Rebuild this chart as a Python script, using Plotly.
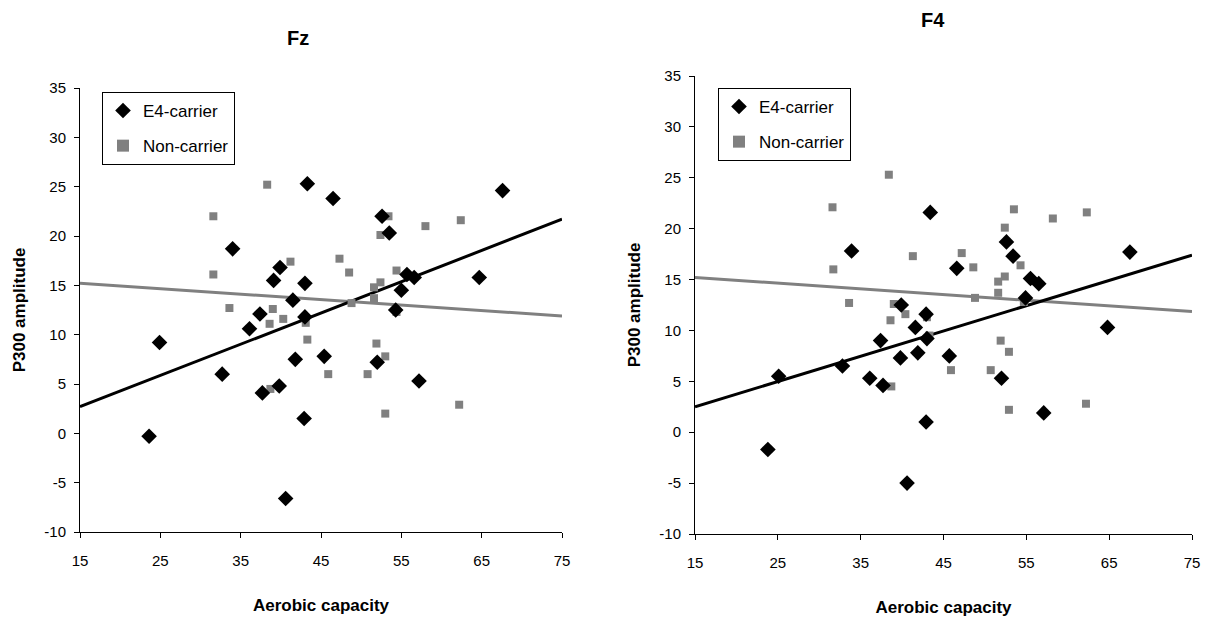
import plotly.graph_objects as go

# ---------------- data ----------------
# Fz panel
fz_e4_x = [23.6, 24.9, 32.7, 34.0, 36.1, 37.4, 37.7, 39.1, 39.8, 39.9, 40.6, 41.5, 41.8, 42.9, 43.0,
           43.0, 43.3, 45.4, 46.5, 52.0, 52.6, 53.5, 54.3, 55.0, 55.7, 56.6, 57.2, 64.7, 67.6]
fz_e4_y = [-0.3, 9.2, 6.0, 18.7, 10.6, 12.1, 4.1, 15.5, 4.8, 16.8, -6.6, 13.5, 7.5, 1.5, 11.8,
           15.2, 25.3, 7.8, 23.8, 7.2, 22.0, 20.3, 12.5, 14.5, 16.1, 15.8, 5.3, 15.8, 24.6]
fz_nc_x = [31.6, 31.6, 33.6, 38.3, 39.0, 38.6, 38.7, 40.3, 41.2, 43.1, 43.3, 45.9, 47.3, 48.5, 48.8,
           50.8, 51.6, 51.6, 51.9, 52.4, 52.4, 53.4, 53.0, 53.0, 54.4, 54.4, 58.0, 62.2, 62.4]
fz_nc_y = [22.0, 16.1, 12.7, 25.2, 12.6, 11.1, 4.5, 11.6, 17.4, 11.2, 9.5, 6.0, 17.7, 16.3, 13.2,
           6.0, 14.8, 13.7, 9.1, 20.1, 15.3, 22.0, 7.8, 2.0, 16.5, 12.3, 21.0, 2.9, 21.6]
fz_trend_x = [15, 75]
fz_trend_e4 = [2.7, 21.7]
fz_trend_nc = [15.2, 11.9]

# F4 panel
f4_e4_x = [23.8, 25.1, 32.8, 33.9, 36.1, 37.4, 37.7, 39.8, 39.9, 40.6, 41.6, 41.9, 42.9, 42.9,
           43.0, 43.4, 45.7, 46.6, 52.0, 52.6, 53.4, 54.9, 55.5, 56.5, 57.1, 64.8, 67.5]
f4_e4_y = [-1.7, 5.5, 6.5, 17.8, 5.3, 9.0, 4.6, 7.3, 12.5, -5.0, 10.3, 7.8, 1.0, 11.6,
           9.2, 21.6, 7.5, 16.1, 5.3, 18.7, 17.3, 13.2, 15.1, 14.6, 1.9, 10.3, 17.7]
f4_nc_x = [31.6, 31.7, 33.6, 38.4, 39.0, 38.6, 38.7, 40.4, 41.3, 43.0, 43.3, 45.9, 47.2, 48.6, 48.8,
           50.7, 51.6, 51.6, 51.9, 52.4, 52.4, 53.5, 52.9, 52.9, 54.3, 54.7, 58.2, 62.2, 62.3]
f4_nc_y = [22.1, 16.0, 12.7, 25.3, 12.6, 11.0, 4.5, 11.6, 17.3, 11.3, 9.5, 6.1, 17.6, 16.2, 13.2,
           6.1, 14.8, 13.7, 9.0, 20.1, 15.3, 21.9, 7.9, 2.2, 16.4, 12.8, 21.0, 2.8, 21.6]
f4_trend_x = [15, 75]
f4_trend_e4 = [2.5, 17.4]
f4_trend_nc = [15.2, 11.85]

titles = ["Fz", "F4"]
x_title = "Aerobic capacity"
y_title = "P300 amplitude"
series_names = ["E4-carrier", "Non-carrier"]
x_ticks = [15, 25, 35, 45, 55, 65, 75]
x_tick_labels = ["15", "25", "35", "45", "55", "65", "75"]
y_ticks = [-10, -5, 0, 5, 10, 15, 20, 25, 30, 35]
y_tick_labels = ["-10", "-5", "0", "5", "10", "15", "20", "25", "30", "35"]

# ---------------- figure ----------------
BLACK = "#000000"
GREY = "#808080"
FONT = "Arial, Liberation Sans, sans-serif"

fig = go.Figure()

panels = [
    dict(e4x=fz_e4_x, e4y=fz_e4_y, ncx=fz_nc_x, ncy=fz_nc_y, tx=fz_trend_x, te=fz_trend_e4, tn=fz_trend_nc,
         xa="x", ya="y", leg="legend"),
    dict(e4x=f4_e4_x, e4y=f4_e4_y, ncx=f4_nc_x, ncy=f4_nc_y, tx=f4_trend_x, te=f4_trend_e4, tn=f4_trend_nc,
         xa="x2", ya="y2", leg="legend2"),
]

for p in panels:
    fig.add_trace(go.Scatter(x=p["tx"], y=p["tn"], mode="lines", line=dict(color=GREY, width=3),
                             xaxis=p["xa"], yaxis=p["ya"], showlegend=False, hoverinfo="skip"))
    fig.add_trace(go.Scatter(x=p["tx"], y=p["te"], mode="lines", line=dict(color=BLACK, width=3),
                             xaxis=p["xa"], yaxis=p["ya"], showlegend=False, hoverinfo="skip"))
    fig.add_trace(go.Scatter(x=p["ncx"], y=p["ncy"], mode="markers", name=series_names[1],
                             marker=dict(symbol="square", size=8, color=GREY),
                             xaxis=p["xa"], yaxis=p["ya"], legend=p["leg"], legendgroup="nc", legendrank=2))
    fig.add_trace(go.Scatter(x=p["e4x"], y=p["e4y"], mode="markers", name=series_names[0],
                             marker=dict(symbol="diamond", size=12, color=BLACK),
                             xaxis=p["xa"], yaxis=p["ya"], legend=p["leg"], legendgroup="e4", legendrank=1))

W, H = 1219, 622
def dx(px): return px / W
def dy(py): return 1 - py / H

axis_common = dict(
    showline=True, linecolor=BLACK, linewidth=1, ticks="outside", ticklen=5, tickcolor=BLACK,
    showgrid=False, zeroline=False, tickfont=dict(family=FONT, size=15, color=BLACK),
    automargin=False, tickmode="array",
)
xa_common = dict(range=[15, 75], tickvals=x_ticks, ticktext=x_tick_labels, ticklabelstandoff=10,
                 title=dict(text="<b>" + x_title + "</b>", font=dict(size=17), standoff=31), **axis_common)
ya_common = dict(range=[-10, 35], tickvals=y_ticks, ticktext=y_tick_labels, ticklabelstandoff=5,
                 title=dict(text="<b>" + y_title + "</b>", font=dict(size=17), standoff=14), **axis_common)

leg_common = dict(xanchor="left", yanchor="top", bordercolor=BLACK, borderwidth=1,
                  bgcolor="white", font=dict(size=17, family=FONT), traceorder="grouped",
                  tracegroupgap=10, itemwidth=30, itemsizing="constant")

fig.update_layout(
    width=W, height=H, margin=dict(l=0, r=0, t=0, b=0),
    paper_bgcolor="white", plot_bgcolor="white",
    font=dict(family=FONT, color=BLACK),
    xaxis=dict(domain=[dx(80), dx(562)], anchor="y", **xa_common),
    yaxis=dict(domain=[dy(532), dy(88)], anchor="x", **ya_common),
    xaxis2=dict(domain=[dx(695), dx(1192)], anchor="y2", **xa_common),
    yaxis2=dict(domain=[dy(534), dy(76)], anchor="x2", **ya_common),
    legend=dict(x=dx(102), y=dy(92), **leg_common),
    legend2=dict(x=dx(718), y=dy(88), **leg_common),
    annotations=[
        dict(text="<b>" + titles[0] + "</b>", x=dx(298), y=dy(38), xref="paper", yref="paper",
             xanchor="center", yanchor="middle", showarrow=False, font=dict(size=20, family=FONT)),
        dict(text="<b>" + titles[1] + "</b>", x=dx(933), y=dy(20), xref="paper", yref="paper",
             xanchor="center", yanchor="middle", showarrow=False, font=dict(size=20, family=FONT)),
    ],
)

fig.write_html("out.html")
